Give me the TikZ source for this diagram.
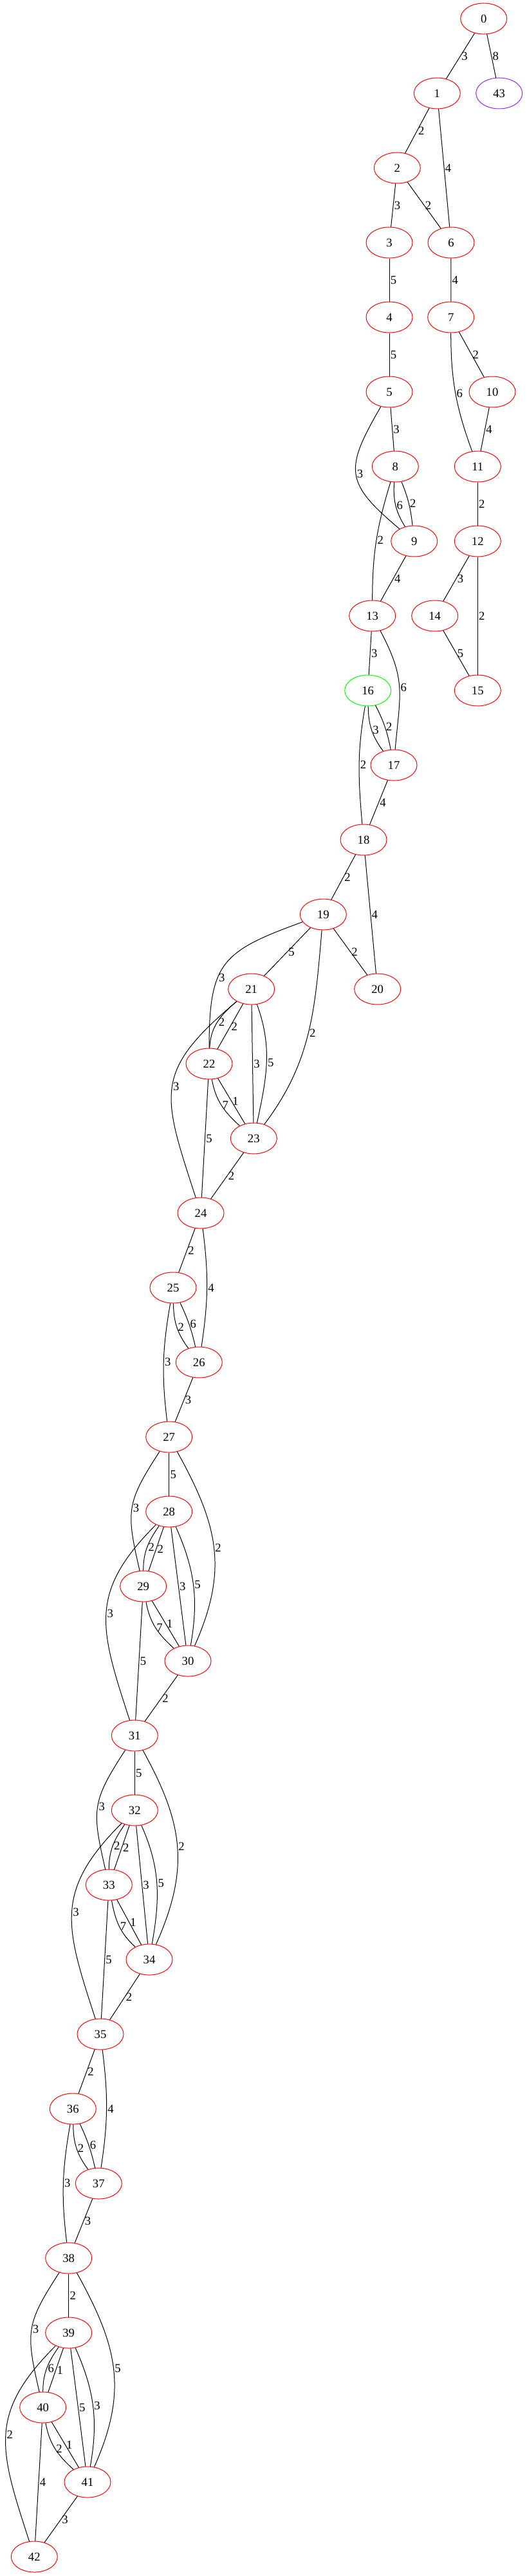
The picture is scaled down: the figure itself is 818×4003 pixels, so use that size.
\documentclass[tikz,border=0pt]{standalone}
\usepackage{fontspec}
\setmainfont{Liberation Serif}
\usepackage{xcolor}
\usepackage{tikz}
\usetikzlibrary{shapes.geometric}

\definecolor{gvgreen}{RGB}{0,255,0}
\definecolor{gvpurple}{RGB}{160,32,240}

\begin{document}
\begin{tikzpicture}[x=0.75pt, y=0.75pt, font=\fontsize{14}{16}\selectfont,
		vertex/.style={ellipse, draw=red, line width=0.75pt, minimum width=54pt, minimum height=36pt, inner sep=0pt},
		wt/.style={right, inner sep=1pt}]
		\useasboundingbox (0,0) rectangle (818,-4003);

		% one rank every 116 units
		\node[vertex] (n0) at (751.7,-29) {0};
		\node[vertex] (n1) at (679.3,-145) {1};
		\node[vertex, draw=gvpurple] (n43) at (775.7,-145) {43};
		\node[vertex] (n2) at (617.3,-261) {2};
		\node[vertex] (n3) at (605,-377) {3};
		\node[vertex] (n6) at (701,-377) {6};
		\node[vertex] (n4) at (605,-493) {4};
		\node[vertex] (n7) at (700.7,-493) {7};
		\node[vertex] (n5) at (605,-609) {5};
		\node[vertex] (n10) at (765,-609) {10};
		\node[vertex] (n8) at (614.3,-725) {8};
		\node[vertex] (n11) at (742.3,-725) {11};
		\node[vertex] (n9) at (643.7,-841) {9};
		\node[vertex] (n12) at (742.3,-841) {12};
		\node[vertex] (n13) at (578.7,-957) {13};
		\node[vertex] (n14) at (675.7,-957) {14};
		\node[vertex, draw=gvgreen] (n16) at (571.7,-1073) {16};
		\node[vertex] (n15) at (742.3,-1073) {15};
		\node[vertex] (n17) at (612,-1189) {17};
		\node[vertex] (n18) at (565,-1305) {18};
		\node[vertex] (n19) at (502.3,-1421) {19};
		\node[vertex] (n21) at (390.7,-1537) {21};
		\node[vertex] (n20) at (586.7,-1537) {20};
		\node[vertex] (n22) at (325,-1653) {22};
		\node[vertex] (n23) at (394.3,-1769) {23};
		\node[vertex] (n24) at (312,-1885) {24};
		\node[vertex] (n25) at (269,-2001) {25};
		\node[vertex] (n26) at (309.3,-2117) {26};
		\node[vertex] (n27) at (262.7,-2233) {27};
		\node[vertex] (n28) at (262.7,-2349) {28};
		\node[vertex] (n29) at (222.7,-2465) {29};
		\node[vertex] (n30) at (292,-2581) {30};
		\node[vertex] (n31) at (209.3,-2697) {31};
		\node[vertex] (n32) at (209.3,-2813) {32};
		\node[vertex] (n33) at (169.3,-2929) {33};
		\node[vertex] (n34) at (232,-3045) {34};
		\node[vertex] (n35) at (156,-3161) {35};
		\node[vertex] (n36) at (113.3,-3277) {36};
		\node[vertex] (n37) at (153.3,-3393) {37};
		\node[vertex] (n38) at (106.7,-3509) {38};
		\node[vertex] (n39) at (106.7,-3625) {39};
		\node[vertex] (n40) at (66.7,-3741) {40};
		\node[vertex] (n41) at (136,-3857) {41};
		\node[vertex] (n42) at (53.3,-3973) {42};

		\begin{scope}[line width=0.75pt, every node/.style={wt}]
			% top branch
			\draw (n0) -- node {3} (n1);
			\draw (n0) -- node {8} (n43);
			\draw (n1) -- node {2} (n2);
			\draw (n1) -- node {4} (n6);
			\draw (n2) -- node {3} (n3);
			\draw (n2) -- node {2} (n6);
			\draw (n3) -- node {5} (n4);
			\draw (n6) -- node {4} (n7);
			\draw (n4) -- node {5} (n5);
			\draw (n7) -- node {2} (n10);
			\draw (n7) to[out=-90, in=110] node {6} (n11);
			\draw (n5) -- node {3} (n8);
			\draw (n5) to[out=-120, in=140, looseness=1.5] node {3} (n9);
			\draw (n10) -- node {4} (n11);
			\draw (n8) to[bend right=18] node {6} (n9);
			\draw (n8) to[bend left=8] node {2} (n9);
			\draw (n8) to[out=-107, in=90] node {2} (n13);
			\draw (n11) -- node {2} (n12);
			\draw (n9) -- node {4} (n13);
			\draw (n12) -- node {3} (n14);
			\draw (n12) -- node {2} (n15);
			\draw (n13) -- node {3} (n16);
			\draw (n13) to[out=-62, in=85, looseness=1.2] node {6} (n17);
			\draw (n14) -- node {5} (n15);
			\draw (n16) to[bend right=18] node {3} (n17);
			\draw (n16) to[bend left=8] node {2} (n17);
			\draw (n16) to[out=-100, in=95] node {2} (n18);
			\draw (n17) -- node {4} (n18);
			\draw (n18) -- node {2} (n19);
			\draw (n18) -- node {4} (n20);

			% 19 to 24
			\draw (n19) -- node {5} (n21);
			\draw (n19) -- node {2} (n20);
			\draw (n19) to[out=-160, in=90, looseness=1.4] node[pos=0.62] {3} (n22);
			\draw (n19) to[out=-95, in=53] node {2} (n23);
			\draw (n21) to[out=-140, in=88] node {2} (n22);
			\draw (n21) -- node {2} (n22);
			\draw (n21) -- node {3} (n23);
			\draw (n21) to[out=-70, in=78] node {5} (n23);
			\draw (n21) to[out=-140, in=108, looseness=1.4] node {3} (n24);
			\draw (n22) to[out=-80, in=138] node {7} (n23);
			\draw (n22) -- node {1} (n23);
			\draw (n22) -- node {5} (n24);
			\draw (n23) -- node {2} (n24);

			% 24 to 27
			\draw (n24) -- node {2} (n25);
			\draw (n24) to[bend left=8] node {4} (n26);
			\draw (n25) to[bend right=18] node {2} (n26);
			\draw (n25) to[bend left=6] node {6} (n26);
			\draw (n25) to[out=-100, in=97] node {3} (n27);
			\draw (n26) -- node {3} (n27);

			% 27 to 31
			\draw (n27) -- node {5} (n28);
			\draw (n27) to[out=-123, in=103, looseness=1.3] node {3} (n29);
			\draw (n27) to[out=-61, in=66, looseness=1.1] node {2} (n30);
			\draw (n28) to[out=-125, in=90] node {2} (n29);
			\draw (n28) -- node {2} (n29);
			\draw (n28) -- node {3} (n30);
			\draw (n28) to[out=-66, in=80] node {5} (n30);
			\draw (n28) to[out=-135, in=108, looseness=1.25] node {3} (n31);
			\draw (n29) to[out=-80, in=138] node {7} (n30);
			\draw (n29) -- node {1} (n30);
			\draw (n29) -- node {5} (n31);
			\draw (n30) -- node {2} (n31);

			% 31 to 35
			\draw (n31) -- node {5} (n32);
			\draw (n31) to[out=-123, in=103, looseness=1.3] node {3} (n33);
			\draw (n31) to[out=-61, in=66, looseness=1.1] node {2} (n34);
			\draw (n32) to[out=-125, in=90] node {2} (n33);
			\draw (n32) -- node {2} (n33);
			\draw (n32) -- node {3} (n34);
			\draw (n32) to[out=-66, in=80] node {5} (n34);
			\draw (n32) to[out=-135, in=108, looseness=1.25] node {3} (n35);
			\draw (n33) to[out=-80, in=138] node {7} (n34);
			\draw (n33) -- node {1} (n34);
			\draw (n33) -- node {5} (n35);
			\draw (n34) -- node {2} (n35);

			% 35 to 38
			\draw (n35) -- node {2} (n36);
			\draw (n35) to[bend left=8] node {4} (n37);
			\draw (n36) to[bend right=18] node {2} (n37);
			\draw (n36) to[bend left=6] node {6} (n37);
			\draw (n36) to[out=-100, in=97] node {3} (n38);
			\draw (n37) -- node {3} (n38);

			% 38 to 42
			\draw (n38) -- node {2} (n39);
			\draw (n38) to[out=-123, in=103, looseness=1.3] node {3} (n40);
			\draw (n38) to[out=-61, in=66, looseness=1.1] node {5} (n41);
			\draw (n39) to[out=-125, in=90] node {6} (n40);
			\draw (n39) -- node {1} (n40);
			\draw (n39) -- node {5} (n41);
			\draw (n39) to[out=-66, in=80] node {3} (n41);
			\draw (n39) to[out=-135, in=108, looseness=1.25] node {2} (n42);
			\draw (n40) to[out=-80, in=138] node {2} (n41);
			\draw (n40) -- node {1} (n41);
			\draw (n40) -- node {4} (n42);
			\draw (n41) -- node {3} (n42);
		\end{scope}
	\end{tikzpicture}
\end{document}
